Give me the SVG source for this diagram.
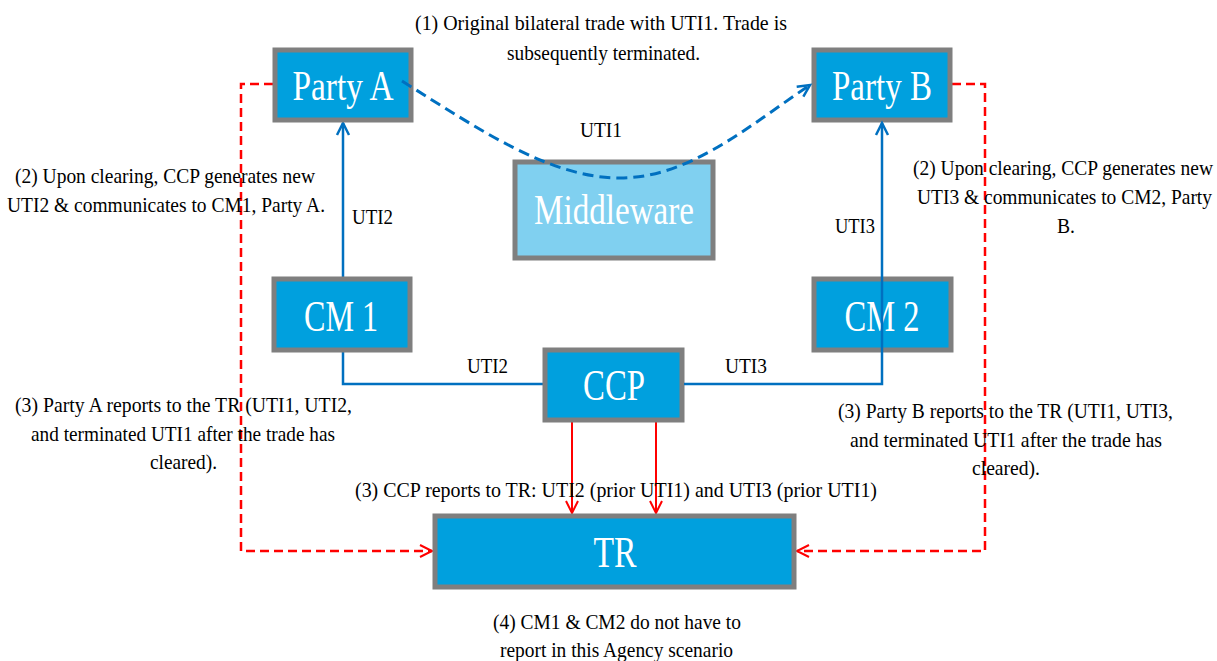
<svg xmlns="http://www.w3.org/2000/svg" width="1217" height="661" viewBox="0 0 1217 661">
<style>
.box{fill:#00A0DE;stroke:#7F7F7F;stroke-width:5}
.mw{fill:#80D0F0;stroke:#7F7F7F;stroke-width:5}
.bl{font-family:"Liberation Serif",serif;fill:#fff;text-anchor:middle}
.t{font-family:"Liberation Serif",serif;font-size:22px;fill:#000}
.blue{fill:none;stroke:#0070C0;stroke-width:2.5}
.bdash{fill:none;stroke:#0070C0;stroke-width:3;stroke-dasharray:11,6}
.rdash{fill:none;stroke:#FF0000;stroke-width:2.5;stroke-dasharray:9,5}
.red{fill:none;stroke:#FF0000;stroke-width:2}
</style>
<defs>
<marker id="ab" markerUnits="userSpaceOnUse" markerWidth="16" markerHeight="16" refX="13" refY="7" orient="auto" viewBox="0 0 16 14"><path d="M1,1 L13,7 L1,13" fill="none" stroke="#0070C0" stroke-width="2.5"/></marker>
<marker id="ar" markerUnits="userSpaceOnUse" markerWidth="16" markerHeight="16" refX="13" refY="7" orient="auto" viewBox="0 0 16 14"><path d="M1,1 L13,7 L1,13" fill="none" stroke="#FF0000" stroke-width="2"/></marker>
</defs>

<g id="connectors">
<path class="blue" d="M543,384 H343 V123" marker-end="url(#ab)"/>
<path class="rdash" d="M273,84 H241 V551 H432" marker-end="url(#ar)"/>
<path class="rdash" d="M952,84 H985 V551 H797" marker-end="url(#ar)"/>
<path class="red" d="M572,422 V513" marker-end="url(#ar)"/>
<path class="red" d="M656,422 V513" marker-end="url(#ar)"/>
</g>

<g id="party-a"><rect class="box" x="275" y="50" width="136" height="70"/><text class="bl" x="343" y="100" font-size="43" textLength="101" lengthAdjust="spacingAndGlyphs">Party A</text></g>
<g id="party-b"><rect class="box" x="814" y="50" width="136" height="70"/><text class="bl" x="882" y="100" font-size="43" textLength="100" lengthAdjust="spacingAndGlyphs">Party B</text></g>
<g id="middleware"><rect class="mw" x="515" y="162" width="198" height="96"/><text class="bl" x="614" y="224" font-size="42" textLength="160" lengthAdjust="spacingAndGlyphs">Middleware</text></g>
<g id="cm1"><rect class="box" x="274" y="279" width="136" height="71"/><text class="bl" x="341" y="331" font-size="44" textLength="74" lengthAdjust="spacingAndGlyphs">CM 1</text></g>
<g id="cm2"><rect class="box" x="814" y="279" width="137" height="71"/><text class="bl" x="882" y="331" font-size="44" textLength="75" lengthAdjust="spacingAndGlyphs">CM 2</text></g>
<g id="ccp"><rect class="box" x="545" y="350" width="137" height="70"/><text class="bl" x="614" y="400" font-size="45" textLength="62" lengthAdjust="spacingAndGlyphs">CCP</text></g>
<g id="tr"><rect class="box" x="435" y="516" width="359" height="71"/><text class="bl" x="615" y="567" font-size="45" textLength="43" lengthAdjust="spacingAndGlyphs">TR</text></g>

<g id="connectors-over">
<path class="blue" d="M684,384 H882 V123" marker-end="url(#ab)"/>
<path class="bdash" d="M402,81 C480,130 550,178 620,178 C690,178 750,125 810,85" marker-end="url(#ab)"/>
</g>

<g id="labels">
<text class="t" x="415" y="30" textLength="372" lengthAdjust="spacingAndGlyphs">(1) Original bilateral trade with UTI1. Trade is</text>
<text class="t" x="507" y="60" textLength="193" lengthAdjust="spacingAndGlyphs">subsequently terminated.</text>
<text class="t" x="580" y="137" textLength="42" lengthAdjust="spacingAndGlyphs">UTI1</text>
<text class="t" x="352" y="224" textLength="41" lengthAdjust="spacingAndGlyphs">UTI2</text>
<text class="t" x="835" y="233" textLength="40" lengthAdjust="spacingAndGlyphs">UTI3</text>
<text class="t" x="467" y="373" textLength="41" lengthAdjust="spacingAndGlyphs">UTI2</text>
<text class="t" x="725" y="373" textLength="42" lengthAdjust="spacingAndGlyphs">UTI3</text>
<text class="t" x="15" y="183" textLength="300" lengthAdjust="spacingAndGlyphs">(2) Upon clearing, CCP generates new</text>
<text class="t" x="7" y="212" textLength="318" lengthAdjust="spacingAndGlyphs">UTI2 &amp; communicates to CM1, Party A.</text>
<text class="t" x="913" y="175" textLength="300" lengthAdjust="spacingAndGlyphs">(2) Upon clearing, CCP generates new</text>
<text class="t" x="917" y="204" textLength="295" lengthAdjust="spacingAndGlyphs">UTI3 &amp; communicates to CM2, Party</text>
<text class="t" x="1057" y="233" textLength="18" lengthAdjust="spacingAndGlyphs">B.</text>
<text class="t" x="15" y="412" textLength="337" lengthAdjust="spacingAndGlyphs">(3) Party A reports to the TR (UTI1, UTI2,</text>
<text class="t" x="31" y="441" textLength="304" lengthAdjust="spacingAndGlyphs">and terminated UTI1 after the trade has</text>
<text class="t" x="150" y="469" textLength="67" lengthAdjust="spacingAndGlyphs">cleared).</text>
<text class="t" x="838" y="418" textLength="335" lengthAdjust="spacingAndGlyphs">(3) Party B reports to the TR (UTI1, UTI3,</text>
<text class="t" x="850" y="447" textLength="312" lengthAdjust="spacingAndGlyphs">and terminated  UTI1 after the trade has</text>
<text class="t" x="972" y="475" textLength="68" lengthAdjust="spacingAndGlyphs">cleared).</text>
<text class="t" x="355" y="497" textLength="522" lengthAdjust="spacingAndGlyphs">(3) CCP  reports to TR:  UTI2 (prior UTI1) and UTI3 (prior UTI1)</text>
<text class="t" x="493" y="629" textLength="248" lengthAdjust="spacingAndGlyphs">(4) CM1 &amp; CM2 do not have to</text>
<text class="t" x="500" y="657" textLength="233" lengthAdjust="spacingAndGlyphs">report in this Agency scenario</text>
</g>
</svg>
